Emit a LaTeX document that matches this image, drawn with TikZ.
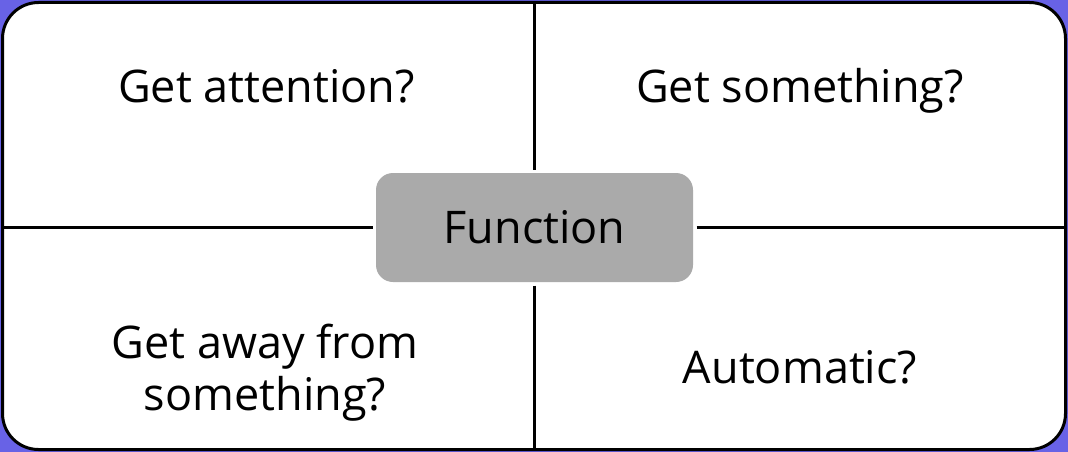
\documentclass[tikz,border=0pt]{standalone}
\usepackage{fontspec}
\setmainfont{Open Sans}
\definecolor{bgpurple}{RGB}{104, 98, 230}
\definecolor{boxgray}{RGB}{170, 170, 170}
\usetikzlibrary{positioning, calc}
\tikzset{
  quadtext/.style={font=\fontsize{45}{52}\selectfont, align=center, inner sep=0pt, anchor=base},
  divider/.style={draw=black, line width=2.5pt}
}

\begin{document}
\begin{tikzpicture}[x=1pt, y=-1pt]
  % Background
  \fill[bgpurple] (0, 0) rectangle (1068, 452);
  \useasboundingbox (0, 0) rectangle (1068, 452);

  % Frame
  \node[draw=black, fill=white, line width=3pt, rounded corners=36pt, minimum width=1063pt, minimum height=447pt, inner sep=0pt] (frame) at (534, 226) {};

  % Function
  \node[fill=boxgray, rounded corners=17pt, minimum width=317pt, minimum height=109pt, outer sep=3.5pt, font=\fontsize{45}{52}\selectfont] (fn) at (534.5, 227.5) {Function};

  % Dividers
  \draw[divider] (fn.north) -- (fn.north |- frame.north);
  \draw[divider] (fn.south) -- (fn.south |- frame.south);
  \draw[divider] (fn.west) -- (fn.west -| frame.west);
  \draw[divider] (fn.east) -- (fn.east -| frame.east);

  % Quadrants
  \node[quadtext] (attn) at (266.5, 102) {Get attention?};
  \node[quadtext] (tang) at (800, 102) {Get something?};
  \node[quadtext] (escape) at (265, 410) {Get away from\\something?};
  \node[quadtext] (auto) at (800, 383) {Automatic?};
\end{tikzpicture}
\end{document}
